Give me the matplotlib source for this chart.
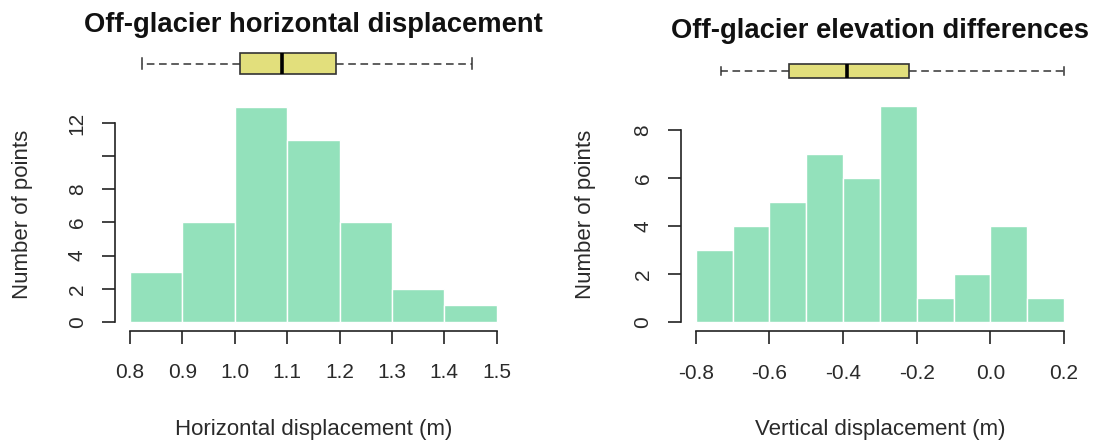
import matplotlib
matplotlib.use("Agg")
import matplotlib.pyplot as plt
import numpy as np
from matplotlib.transforms import offset_copy

plt.rcParams["font.family"] = ["Liberation Sans", "DejaVu Sans"]

# ---- data -------------------------------------------------------------
horiz_edges = [0.8, 0.9, 1.0, 1.1, 1.2, 1.3, 1.4, 1.5]
horiz_counts = [3, 6, 13, 11, 6, 2, 1]
horiz_box = dict(whislo=0.823, q1=1.010, med=1.090, q3=1.193, whishi=1.453)

vert_edges = [-0.8, -0.7, -0.6, -0.5, -0.4, -0.3, -0.2, -0.1, 0.0, 0.1, 0.2]
vert_counts = [3, 4, 5, 7, 6, 9, 1, 2, 4, 1]
vert_box = dict(whislo=-0.731, q1=-0.547, med=-0.388, q3=-0.220, whishi=0.200)

horiz_xticks = [0.8, 0.9, 1.0, 1.1, 1.2, 1.3, 1.4, 1.5]
horiz_xticklabels = ["0.8", "0.9", "1.0", "1.1", "1.2", "1.3", "1.4", "1.5"]
horiz_yticks = [0, 2, 4, 6, 8, 10, 12]
horiz_yticklabels = ["0", "2", "4", "6", "8", "", "12"]

vert_xticks = [-0.8, -0.6, -0.4, -0.2, 0.0, 0.2]
vert_xticklabels = ["-0.8", "-0.6", "-0.4", "-0.2", "0.0", "0.2"]
vert_yticks = [0, 2, 4, 6, 8]
vert_yticklabels = ["0", "2", "4", "6", "8"]

titles = ["Off-glacier horizontal displacement", "Off-glacier elevation differences"]
xlabels = ["Horizontal displacement (m)", "Vertical displacement (m)"]
ylabel = "Number of points"

BAR_COLOR = "#93e1bb"
BOX_COLOR = "#e2df7c"
INK = "#222222"

W, H = 1093, 441
fig = plt.figure(figsize=(W / 100, H / 100), dpi=100)


def rect(x0, y0, x1, y1):
    """Figure rectangle from pixel box (y measured from the top)."""
    return [x0 / W, 1 - y1 / H, (x1 - x0) / W, (y1 - y0) / H]


def histogram_panel(px, edges, counts, xticks, xticklabels, yticks, yticklabels,
                    title, xlabel, title_base, ylabel_off, box_stats,
                    box_center, box_height):
    edges = np.asarray(edges)
    counts = np.asarray(counts)
    lo, hi = edges[0], edges[-1]
    pad = 0.04 * (hi - lo)
    ymax = counts.max()
    ax = fig.add_axes(rect(*px))
    ax.bar(edges[:-1], counts, width=np.diff(edges), align="edge",
           color=BAR_COLOR, edgecolor="white", linewidth=1.0)
    ax.set_xlim(lo - pad, hi + pad)
    ax.set_ylim(-0.04 * ymax, ymax * 1.04)
    for s in ("top", "right"):
        ax.spines[s].set_visible(False)
    ax.spines["left"].set_bounds(yticks[0], yticks[-1])
    ax.spines["bottom"].set_bounds(xticks[0], xticks[-1])
    for s in ("left", "bottom"):
        ax.spines[s].set_color(INK)
        ax.spines[s].set_linewidth(1.2)
    ax.set_xticks(xticks, xticklabels)
    ax.set_yticks(yticks, yticklabels)
    ax.tick_params(axis="both", colors=INK, labelcolor="#2a2a2a",
                   labelsize=15, length=9.5, width=1.2)
    ax.tick_params(axis="x", pad=14)
    ax.tick_params(axis="y", pad=11)
    for lab in ax.get_yticklabels():
        lab.set_rotation(90)
        lab.set_va("center")
    ax.set_ylabel(ylabel, fontsize=16, color="#2a2a2a", va="center")
    ax.yaxis.set_label_coords(0, 0.5, transform=offset_copy(
        ax.transAxes, fig=fig, x=-ylabel_off, y=0, units="dots"))
    ax.set_xlabel(xlabel, fontsize=16, color="#2a2a2a", va="baseline")
    ax.xaxis.set_label_coords(0.5, 0, transform=offset_copy(
        ax.transAxes, fig=fig, x=0, y=-(435 - px[3]), units="dots"))

    # title
    cx = (px[0] + px[2]) / 2
    fig.text(cx / W, 1 - title_base / H, title, ha="center", va="baseline",
             fontsize=19.7, fontweight="bold", color="#111111")

    # boxplot strip above the histogram, sharing its x scale
    bx = fig.add_axes(rect(px[0], box_center - 25, px[2], box_center + 25))
    bx.set_xlim(ax.get_xlim())
    bx.set_ylim(-25, 25)
    bx.axis("off")
    stats = dict(box_stats, fliers=[])
    bx.bxp([stats], positions=[0], widths=[box_height], orientation="horizontal",
           showfliers=False, patch_artist=True,
           boxprops=dict(facecolor=BOX_COLOR, edgecolor="#333333", linewidth=1.2),
           medianprops=dict(color="black", linewidth=2.6, solid_capstyle="butt"),
           whiskerprops=dict(color="#333333", linewidth=1.1, dashes=(5, 3)),
           capprops=dict(color="#333333", linewidth=1.1))
    return ax


histogram_panel((115.3, 97.9, 511.4, 330.5), horiz_edges, horiz_counts,
                horiz_xticks, horiz_xticklabels, horiz_yticks, horiz_yticklabels,
                titles[0], xlabels[0], 32, 93, horiz_box, 63.5, 21.6)
histogram_panel((681.0, 97.3, 1078.8, 331.0), vert_edges, vert_counts,
                vert_xticks, vert_xticklabels, vert_yticks, vert_yticklabels,
                titles[1], xlabels[1], 38, 96, vert_box, 71.0, 14.5)

fig.savefig("out.png", dpi=100, facecolor="white")
